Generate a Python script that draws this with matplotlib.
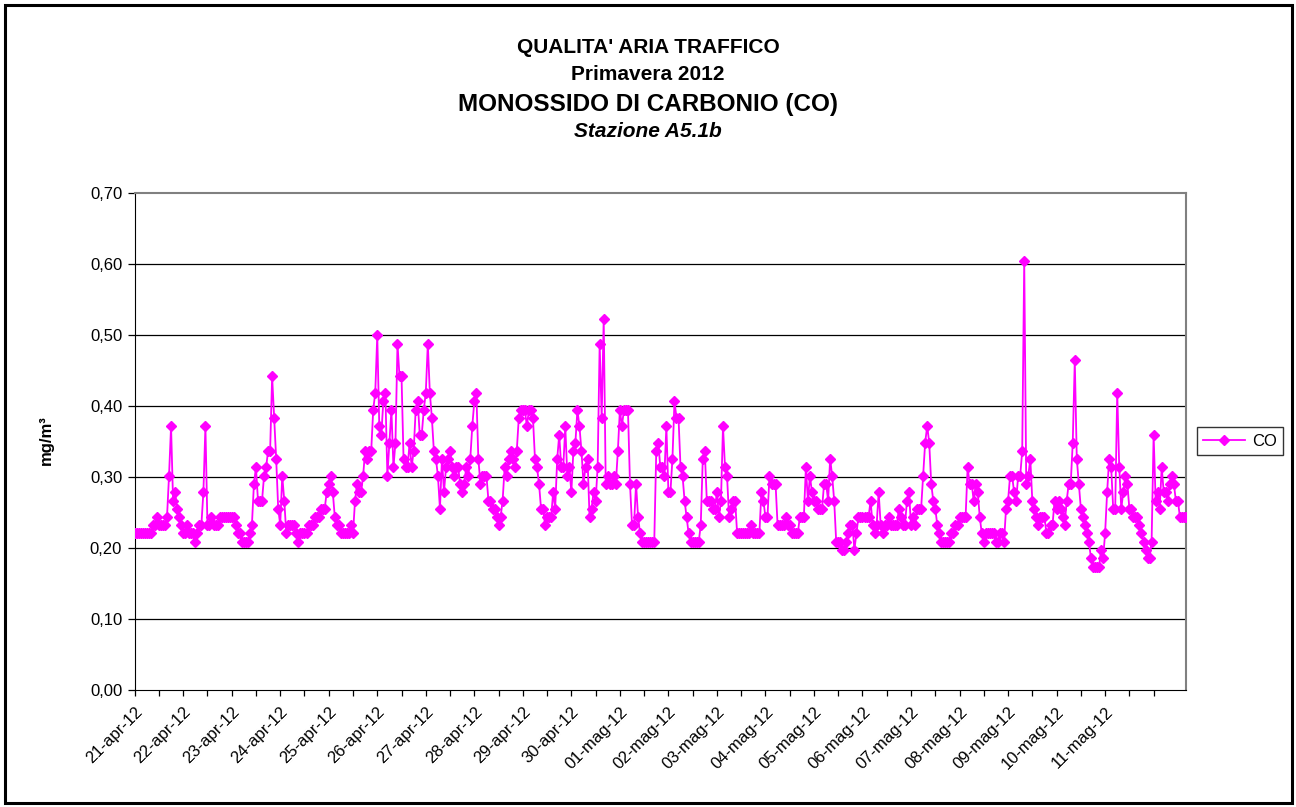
import matplotlib
matplotlib.use("Agg")
from matplotlib import pyplot as plt
from matplotlib.patches import Rectangle

plt.rcParams['font.family'] = ['Liberation Sans', 'DejaVu Sans']

# hourly CO values (mg/m3), 21-apr-12 00:00 onwards
co = [
    # 21-apr
    0.221, 0.221, 0.221, 0.221, 0.221, 0.221, 0.221, 0.221, 0.221, 0.233, 0.233, 0.244,
    0.233, 0.233, 0.233, 0.233, 0.244, 0.302, 0.372, 0.267, 0.279, 0.256, 0.244, 0.233,
    # 22-apr
    0.221, 0.221, 0.233, 0.221, 0.221, 0.221, 0.209, 0.221, 0.233, 0.233, 0.279, 0.372,
    0.233, 0.233, 0.244, 0.233, 0.233, 0.233, 0.244, 0.244, 0.244, 0.244, 0.244, 0.244,
    # 23-apr
    0.244, 0.244, 0.233, 0.221, 0.221, 0.209, 0.209, 0.209, 0.209, 0.221, 0.233, 0.291,
    0.314, 0.267, 0.267, 0.267, 0.302, 0.314, 0.337, 0.337, 0.442, 0.384, 0.326, 0.256,
    # 24-apr
    0.233, 0.302, 0.267, 0.221, 0.233, 0.233, 0.233, 0.233, 0.221, 0.209, 0.221, 0.221,
    0.221, 0.221, 0.233, 0.233, 0.233, 0.244, 0.244, 0.244, 0.256, 0.256, 0.256, 0.279,
    # 25-apr
    0.291, 0.302, 0.279, 0.244, 0.233, 0.233, 0.221, 0.221, 0.221, 0.221, 0.221, 0.233,
    0.221, 0.267, 0.291, 0.279, 0.279, 0.302, 0.337, 0.326, 0.337, 0.337, 0.395, 0.419,
    # 26-apr
    0.500, 0.372, 0.360, 0.407, 0.419, 0.302, 0.349, 0.395, 0.314, 0.349, 0.488, 0.442,
    0.442, 0.326, 0.314, 0.314, 0.349, 0.314, 0.337, 0.395, 0.407, 0.360, 0.360, 0.395,
    # 27-apr
    0.419, 0.488, 0.419, 0.384, 0.337, 0.326, 0.302, 0.256, 0.326, 0.279, 0.314, 0.326,
    0.337, 0.314, 0.302, 0.314, 0.314, 0.291, 0.279, 0.291, 0.314, 0.302, 0.326, 0.372,
    # 28-apr
    0.407, 0.419, 0.326, 0.291, 0.302, 0.302, 0.302, 0.267, 0.267, 0.256, 0.256, 0.244,
    0.233, 0.244, 0.267, 0.314, 0.302, 0.326, 0.337, 0.326, 0.314, 0.337, 0.384, 0.395,
    # 29-apr
    0.395, 0.395, 0.372, 0.395, 0.395, 0.384, 0.326, 0.314, 0.291, 0.256, 0.256, 0.233,
    0.244, 0.244, 0.244, 0.279, 0.256, 0.326, 0.360, 0.314, 0.314, 0.372, 0.302, 0.314,
    # 30-apr
    0.279, 0.337, 0.349, 0.395, 0.372, 0.337, 0.291, 0.314, 0.326, 0.244, 0.256, 0.279,
    0.267, 0.314, 0.488, 0.384, 0.523, 0.291, 0.302, 0.291, 0.291, 0.302, 0.291, 0.337,
    # 01-mag
    0.395, 0.372, 0.395, 0.395, 0.395, 0.291, 0.233, 0.233, 0.291, 0.244, 0.221, 0.209,
    0.209, 0.209, 0.209, 0.209, 0.209, 0.209, 0.337, 0.349, 0.314, 0.314, 0.302, 0.372,
    # 02-mag
    0.279, 0.279, 0.326, 0.407, 0.384, 0.384, 0.314, 0.302, 0.267, 0.244, 0.221, 0.209,
    0.209, 0.209, 0.209, 0.209, 0.233, 0.326, 0.337, 0.267, 0.267, 0.267, 0.256, 0.256,
    # 03-mag
    0.279, 0.244, 0.267, 0.372, 0.314, 0.302, 0.244, 0.256, 0.267, 0.267, 0.221, 0.221,
    0.221, 0.221, 0.221, 0.221, 0.221, 0.233, 0.221, 0.221, 0.221, 0.221, 0.279, 0.267,
    # 04-mag
    0.244, 0.244, 0.302, 0.291, 0.291, 0.291, 0.233, 0.233, 0.233, 0.233, 0.244, 0.233,
    0.233, 0.221, 0.221, 0.221, 0.221, 0.244, 0.244, 0.244, 0.314, 0.267, 0.302, 0.279,
    # 05-mag
    0.267, 0.267, 0.256, 0.256, 0.256, 0.291, 0.291, 0.267, 0.326, 0.302, 0.267, 0.209,
    0.209, 0.209, 0.198, 0.198, 0.209, 0.221, 0.233, 0.233, 0.198, 0.221, 0.244, 0.244,
    # 06-mag
    0.244, 0.244, 0.244, 0.244, 0.267, 0.233, 0.221, 0.233, 0.279, 0.233, 0.221, 0.233,
    0.233, 0.244, 0.233, 0.233, 0.233, 0.233, 0.256, 0.244, 0.233, 0.233, 0.267, 0.279,
    # 07-mag
    0.233, 0.244, 0.233, 0.256, 0.256, 0.256, 0.302, 0.349, 0.372, 0.349, 0.291, 0.267,
    0.256, 0.233, 0.221, 0.209, 0.209, 0.209, 0.209, 0.209, 0.221, 0.221, 0.233, 0.233,
    # 08-mag
    0.244, 0.244, 0.244, 0.244, 0.314, 0.291, 0.291, 0.267, 0.291, 0.279, 0.244, 0.221,
    0.209, 0.221, 0.221, 0.221, 0.221, 0.221, 0.209, 0.209, 0.221, 0.221, 0.209, 0.256,
    # 09-mag
    0.267, 0.302, 0.302, 0.279, 0.267, 0.302, 0.302, 0.337, 0.605, 0.291, 0.302, 0.326,
    0.267, 0.256, 0.244, 0.233, 0.244, 0.244, 0.244, 0.221, 0.221, 0.233, 0.233, 0.267,
    # 10-mag
    0.256, 0.267, 0.256, 0.244, 0.233, 0.267, 0.291, 0.291, 0.349, 0.465, 0.326, 0.291,
    0.256, 0.244, 0.233, 0.221, 0.209, 0.186, 0.174, 0.174, 0.174, 0.174, 0.198, 0.186,
    # 11-mag
    0.221, 0.279, 0.326, 0.314, 0.256, 0.256, 0.419, 0.314, 0.256, 0.279, 0.302, 0.291,
    0.256, 0.256, 0.244, 0.244, 0.244, 0.233, 0.221, 0.209, 0.198, 0.186, 0.186, 0.209,
    # 12-mag
    0.360, 0.267, 0.279, 0.256, 0.314, 0.279, 0.279, 0.267, 0.291, 0.302, 0.291, 0.267,
    0.267, 0.244, 0.244, 0.244, 0.244,
]

day_labels = ['21-apr-12', '22-apr-12', '23-apr-12', '24-apr-12', '25-apr-12', '26-apr-12',
              '27-apr-12', '28-apr-12', '29-apr-12', '30-apr-12', '01-mag-12', '02-mag-12',
              '03-mag-12', '04-mag-12', '05-mag-12', '06-mag-12', '07-mag-12', '08-mag-12',
              '09-mag-12', '10-mag-12', '11-mag-12', '']

y_ticks = [0.0, 0.1, 0.2, 0.3, 0.4, 0.5, 0.6, 0.7]

fig = plt.figure(figsize=(12.96, 8.07), dpi=100)
ax = fig.add_axes([0.1039, 0.1446, 0.8112, 0.6159])

x = list(range(len(co)))
ax.plot(x, co, color='#FF00FF', lw=1.3, marker='D', ms=4.6,
        markeredgecolor='#FF00FF', label='CO', zorder=3)

ax.set_xlim(0, len(co) - 1)
ax.set_ylim(0, 0.7)
ax.set_yticks(y_ticks)
ax.set_yticklabels([('%.2f' % v).replace('.', ',') for v in y_ticks], fontsize=12)
for v in y_ticks[1:-1]:
    ax.axhline(v, color='black', lw=0.9, zorder=1)

# labelled ticks every day, plain ticks at mid-day
ax.set_xticks([24 * d for d in range(len(day_labels))])
ax.set_xticklabels(day_labels, rotation=45, ha='right', va='top',
                   rotation_mode='anchor', fontsize=12)
ax.set_xticks([12 + 24 * d for d in range(len(day_labels) - 1)], minor=True)
ax.tick_params(axis='x', which='both', direction='out', length=4, width=0.9, pad=6)
ax.tick_params(axis='y', direction='out', length=5, width=0.9, pad=4)

for s in ['top', 'right']:
    ax.spines[s].set_color('#808080')
    ax.spines[s].set_linewidth(1.5)
ax.spines['left'].set_color('black')
ax.spines['bottom'].set_color('black')

fig.text(0.036, 1 - 440 / 807, 'mg/m³', rotation=90, ha='center', va='center',
         fontsize=12, fontweight='bold')

fig.text(0.5, 1 - 47.5 / 807, "QUALITA' ARIA TRAFFICO", ha='center', va='center',
         fontsize=15, fontweight='bold')
fig.text(0.5, 1 - 74 / 807, 'Primavera 2012', ha='center', va='center',
         fontsize=15, fontweight='bold')
fig.text(0.5, 1 - 104.5 / 807, 'MONOSSIDO DI CARBONIO (CO)', ha='center', va='center',
         fontsize=17.5, fontweight='bold')
fig.text(0.5, 1 - 131.5 / 807, 'Stazione A5.1b', ha='center', va='center',
         fontsize=15, fontweight='bold', style='italic')

leg = fig.legend(loc='center', bbox_to_anchor=(1240 / 1296, 1 - 441 / 807),
                 fontsize=12, frameon=True, fancybox=False, edgecolor='black',
                 handlelength=2.5, borderpad=0.4, handletextpad=0.4)
leg.get_frame().set_linewidth(1.0)

fig.patches.append(Rectangle((4.5 / 1296, 4.5 / 807), 1 - 9 / 1296, 1 - 9 / 807,
                             transform=fig.transFigure, fill=False,
                             edgecolor='black', lw=2.2))

fig.savefig('out.png', dpi=100)
